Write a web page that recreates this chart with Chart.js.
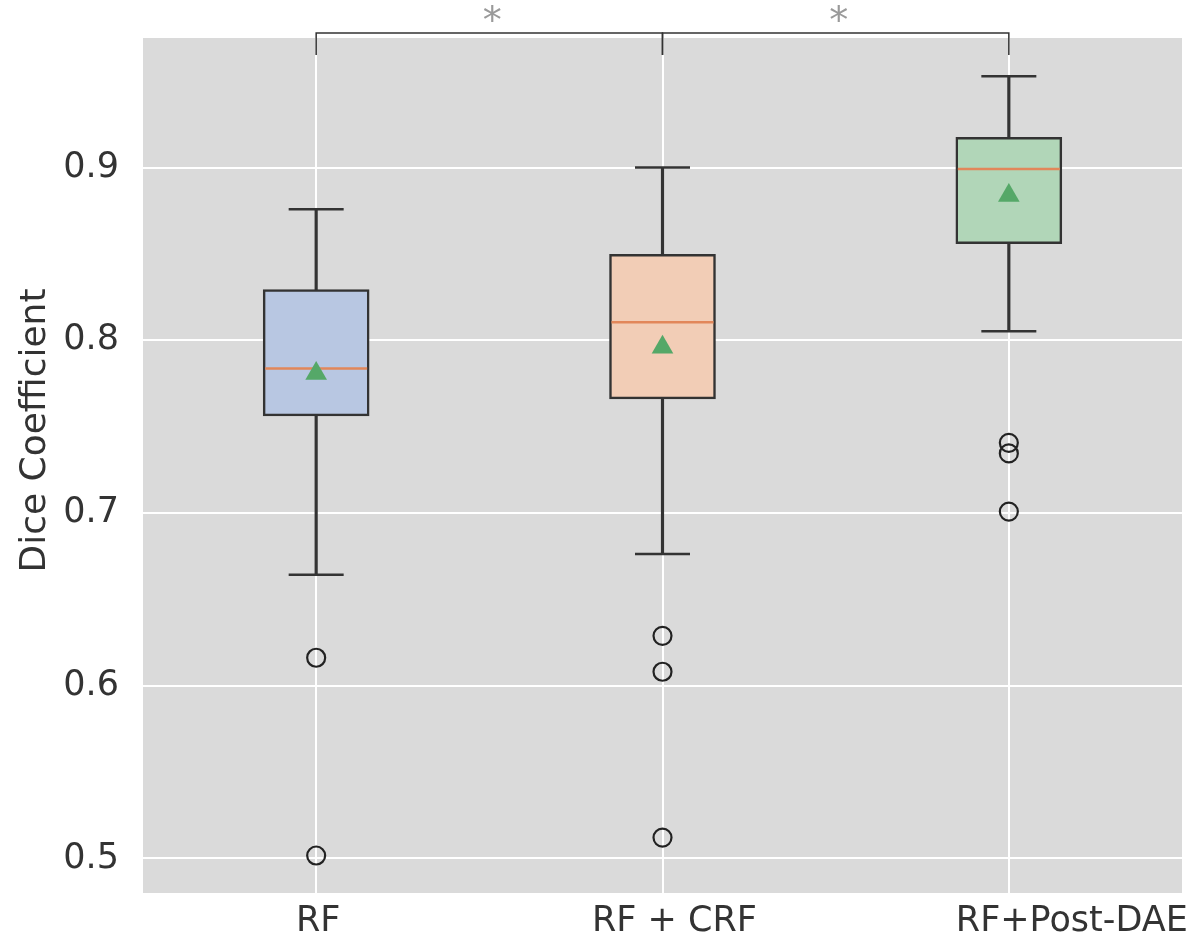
<!DOCTYPE html>
<html><head><meta charset="utf-8">
<script src="https://cdn.jsdelivr.net/npm/chart.js@4/dist/chart.umd.min.js"></script>
<style>html,body{margin:0;padding:0;background:#fff;} canvas{display:block;}</style>
</head><body>
<canvas id="c" width="1194" height="940"></canvas>
<script>
const categories = ['RF', 'RF + CRF', 'RF+Post-DAE'];
const q1 = [0.7562, 0.7661, 0.8559];
const q3 = [0.8293, 0.8497, 0.9175];
const medians = [0.7836, 0.8104, 0.8992];
const means = [0.7808, 0.7960, 0.8838];
const whiskerLow = [0.6642, 0.6763, 0.8052];
const whiskerHigh = [0.8759, 0.9000, 0.9528];
const outliersRF = [0.6162, 0.5017];
const outliersCRF = [0.6289, 0.6081, 0.5121];
const outliersDAE = [0.7406, 0.7345, 0.7008];
const yTicks = [0.5, 0.6, 0.7, 0.8, 0.9];
const significance = [[0, 1, '*'], [1, 2, '*']];
const boxColors = ['#b8c7e2', '#f2cdb6', '#b1d6b8'];

// style nudges (pixels) to mimic the original's label placement
const xLabelNudge = [2, 12, 63];
const yTitleNudge = -35;

const FONT = 'DejaVu Sans';
const TXT = '#333333';

const outlierPts = [
  ...outliersRF.map(v => ({x: categories[0], y: v})),
  ...outliersCRF.map(v => ({x: categories[1], y: v})),
  ...outliersDAE.map(v => ({x: categories[2], y: v}))
];

const bgPlugin = {
  id: 'bg',
  beforeDraw(chart) {
    const {ctx, chartArea: a} = chart;
    ctx.save();
    ctx.fillStyle = '#ffffff';
    ctx.fillRect(0, 0, chart.width, chart.height);
    ctx.fillStyle = '#dadada';
    ctx.fillRect(a.left, a.top, a.right - a.left, a.bottom - a.top);
    ctx.restore();
  }
};

const bracketPlugin = {
  id: 'bracket',
  afterDraw(chart) {
    const {ctx, chartArea: a} = chart;
    const xs = chart.scales.x;
    const barY = a.top - 5;
    const tickY = a.top + 17;
    ctx.save();
    significance.forEach(([i, j, label]) => {
      const x1 = xs.getPixelForValue(i), x2 = xs.getPixelForValue(j);
      ctx.strokeStyle = '#333333';
      ctx.lineWidth = 1.5;
      ctx.beginPath();
      ctx.moveTo(x1, tickY); ctx.lineTo(x1, barY); ctx.lineTo(x2, barY); ctx.lineTo(x2, tickY);
      ctx.stroke();
      ctx.fillStyle = '#9a9a9a';
      ctx.font = '38px "' + FONT + '"';
      ctx.textAlign = 'center';
      ctx.textBaseline = 'alphabetic';
      ctx.fillText(label, (x1 + x2) / 2 + 3, barY);
    });
    ctx.restore();
  }
};

function noPad(s) { s.paddingLeft = 0; s.paddingRight = 0; s.paddingTop = 0; s.paddingBottom = 0; }

new Chart(document.getElementById('c'), {
  data: {
    labels: categories,
    datasets: [
      { type: 'bar', data: categories.map((c, i) => [whiskerLow[i], q1[i]]), backgroundColor: '#333333',
        barThickness: 2.5, grouped: false, order: 6 },
      { type: 'bar', data: categories.map((c, i) => [q3[i], whiskerHigh[i]]), backgroundColor: '#333333',
        barThickness: 2.5, grouped: false, order: 6 },
      { type: 'bar', data: categories.map((c, i) => [q1[i], q3[i]]), backgroundColor: boxColors,
        borderColor: '#333333', borderWidth: 2.5, borderSkipped: false, barThickness: 106, grouped: false, order: 5 },
      { type: 'line', showLine: false, data: [...categories.map((c, i) => ({x: c, y: whiskerLow[i]})), ...categories.map((c, i) => ({x: c, y: whiskerHigh[i]}))],
        pointStyle: 'line', pointRadius: 27.5, pointHoverRadius: 27.5, borderColor: '#333333', pointBorderWidth: 2.5, borderWidth: 2.5, order: 4 },
      { type: 'line', showLine: false, data: categories.map((c, i) => ({x: c, y: medians[i]})),
        pointStyle: 'line', pointRadius: 51, pointHoverRadius: 51, borderColor: '#e2875a', pointBorderWidth: 2.5, borderWidth: 2.5, order: 3 },
      { type: 'line', showLine: false, data: categories.map((c, i) => ({x: c, y: means[i]})),
        pointStyle: 'triangle', pointRadius: 12.5, pointHoverRadius: 12.5, backgroundColor: '#55a868', borderColor: '#55a868', pointBorderWidth: 0, order: 2 },
      { type: 'line', showLine: false, data: outlierPts,
        pointStyle: 'circle', pointRadius: 9, pointHoverRadius: 9, backgroundColor: 'rgba(0,0,0,0)', borderColor: '#222222', pointBorderWidth: 2.2, order: 1 }
    ]
  },
  options: {
    responsive: false,
    animation: false,
    events: [],
    layout: { autoPadding: false, padding: { top: 38, right: 12, left: 0, bottom: 0 } },
    plugins: { legend: { display: false }, tooltip: { enabled: false } },
    scales: {
      x: {
        type: 'category', offset: true,
        grid: { offset: false, color: '#ffffff', lineWidth: 2, drawTicks: false },
        border: { display: false },
        ticks: { font: { family: FONT, size: 35 }, color: TXT, padding: 8, maxRotation: 0 },
        afterFit(s) { s.height = 47; noPad(s); },
        afterUpdate(s) {
          if (!s._nudged) {
            const orig = s._computeLabelItems;
            s._computeLabelItems = function (ca) {
              const items = orig.call(this, ca);
              items.forEach((it, i) => { it.options.translation[0] += (xLabelNudge[i] || 0); });
              return items;
            };
            s._nudged = true;
          }
        }
      },
      y: {
        type: 'linear', min: 0.48, max: 0.975,
        afterBuildTicks(s) { s.ticks = yTicks.map(v => ({value: v})); },
        grid: { color: '#ffffff', lineWidth: 2, drawTicks: false },
        border: { display: false },
        ticks: { font: { family: FONT, size: 35 }, color: TXT, padding: 24, callback: v => Number(v).toFixed(1) },
        title: { display: true, text: 'Dice Coefficient', font: { family: FONT, size: 36 }, color: TXT, padding: { top: 14, bottom: 0 } },
        afterFit(s) { s.width = 143; noPad(s); },
        afterUpdate(s) {
          if (!s._nudged) {
            const orig = s.drawTitle;
            s.drawTitle = function () {
              const c = this.ctx; c.save(); c.translate(0, yTitleNudge); orig.call(this); c.restore();
            };
            s._nudged = true;
          }
        }
      }
    }
  },
  plugins: [bgPlugin, bracketPlugin]
});
</script>
</body></html>
